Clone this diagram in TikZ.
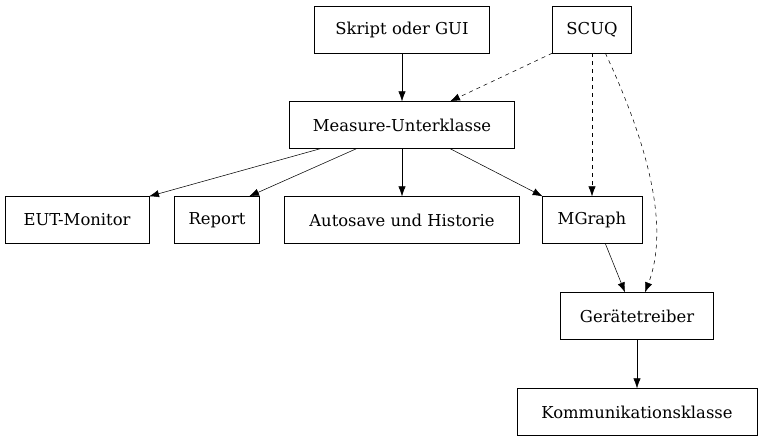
\documentclass[tikz,border=0pt]{standalone}
\usepackage{fontspec}
\setmainfont{DejaVu Serif}
\usetikzlibrary{arrows.meta,positioning}

\begin{document}
\begin{tikzpicture}[x=0.75pt,y=-0.75pt,
    box/.style={draw, rectangle, minimum height=35pt, inner xsep=4pt, font=\fontsize{12.3}{14}\selectfont},
    link/.style={-{Latex[length=7.5pt,width=5.5pt]}, thin},
    uses/.style={-{Latex[length=7.5pt,width=5.5pt]}, thin, dashed}]
    \useasboundingbox (0,0) rectangle (763,443);

    % top row
    \node[box, minimum width=131pt] (gui) at (402,29.5) {Skript oder GUI};
    \node[box, minimum width=59pt] (scuq) at (592,29.5) {SCUQ};

    \node[box, minimum width=169pt] (measure) at (402,125) {Measure-Unterklasse};

    % middle row
    \node[box, minimum width=108pt] (eut) at (77,220) {EUT-Monitor};
    \node[box, minimum width=64pt] (report) at (217,220) {Report};
    \node[box, minimum width=176pt] (autosave) at (402,220) {Autosave und Historie};
    \node[box, minimum width=75pt] (mgraph) at (592,220) {MGraph};

    % driver chain
    \node[box, minimum width=115pt] (driver) at (637,316) {Gerätetreiber};
    \node[box, minimum width=180pt] (comm) at (637,412) {Kommunikationsklasse};

    \draw[link] (gui) -- (measure);
    \draw[uses] (scuq.south west) -- ([xshift=36pt]measure.north);
    \draw[uses] (scuq) -- (mgraph);
    \draw[uses] ([xshift=10pt]scuq.south) .. controls (660,170) and (665,240) .. ([xshift=6pt]driver.north);

    \draw[link] ([xshift=-61pt]measure.south) -- ([xshift=54pt]eut.north);
    \draw[link] ([xshift=-34pt]measure.south) -- ([xshift=24pt]report.north);
    \draw[link] (measure) -- (autosave);
    \draw[link] ([xshift=36pt]measure.south) -- ([xshift=-37pt]mgraph.north);

    \draw[link] ([xshift=10pt]mgraph.south) -- ([xshift=-9pt]driver.north);
    \draw[link] (driver) -- (comm);
\end{tikzpicture}
\end{document}
